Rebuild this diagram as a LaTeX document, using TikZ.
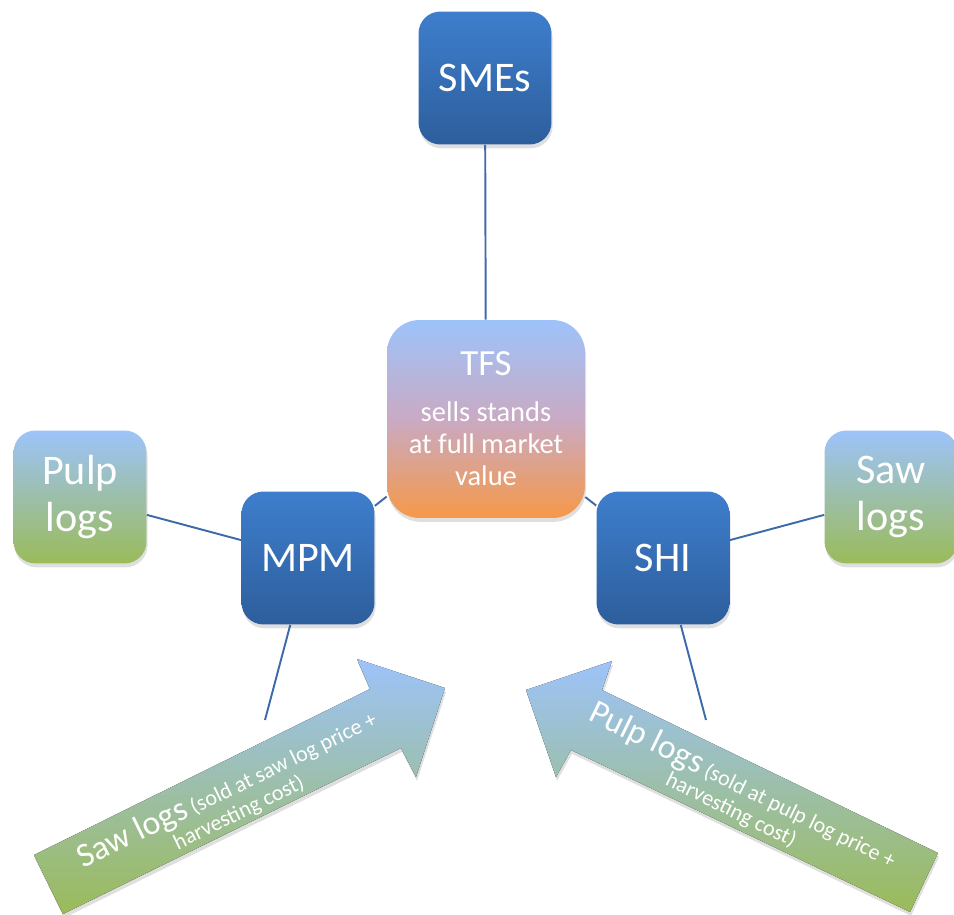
\documentclass[tikz,border=0pt]{standalone}
\usepackage{fontspec}
\setmainfont{Carlito}
\usetikzlibrary{shadows}

\definecolor{boxtop}{RGB}{62,126,205}
\definecolor{boxbot}{RGB}{45,94,156}
\definecolor{skyblue}{RGB}{157,195,250}
\definecolor{leafgreen}{RGB}{155,187,89}
\definecolor{tfsmid}{RGB}{201,170,196}
\definecolor{tfsorange}{RGB}{246,152,72}
\definecolor{linkblue}{RGB}{62,106,170}

\tikzset{
  softshadow/.style={drop shadow={shadow xshift=0.6pt, shadow yshift=-2.2pt, opacity=0.25}},
  firm/.style={rounded corners=12.5pt, softshadow, top color=boxtop, bottom color=boxbot,
    text=white, align=center, inner sep=0pt, minimum width=2.66cm, minimum height=2.66cm,
    font=\fontsize{24}{27}\selectfont},
  logbox/.style={firm, top color=skyblue, bottom color=leafgreen},
  link/.style={linkblue, line width=1.1pt},
  logarrow/.style={softshadow, top color=skyblue, bottom color=leafgreen},
  arrowtext/.style={text=white, align=center, inner sep=0pt, font=\fontsize{12.6}{14}\selectfont}
}

\begin{document}
\begin{tikzpicture}[x=0.02cm, y=-0.02cm]
\useasboundingbox (0,0) rectangle (954,915);

% the two log arrows

\fill [logarrow] (34,855) -- (370,689) -- (357,659) -- (445,688) -- (416,777) -- (401,748) -- (63,914) -- cycle;
\fill [logarrow] (938,853) -- (602,690) -- (612,661) -- (526,690) -- (556,777) -- (571,750) -- (910,912) -- cycle;

\node [arrowtext, rotate=26] (sawtext) at (232,799)
  {{\fontsize{19.3}{22}\selectfont Saw logs} (sold at saw log price +\\harvesting cost)};
\node [arrowtext, rotate=-26] (pulptext) at (738,796)
  {{\fontsize{19.3}{22}\selectfont Pulp logs} (sold at pulp log price +\\harvesting cost)};

% boxes

\node [firm] (smes) at (485,78) {SMEs};
\node [firm, rounded corners=18.5pt, minimum width=3.96cm, minimum height=3.96cm,
       top color=skyblue, bottom color=tfsorange, middle color=tfsmid,
       font=\fontsize{16.2}{18.2}\selectfont] (tfs) at (486,419)
  {{\fontsize{21}{24}\selectfont TFS}\\[8pt]sells stands\\at full market\\value};
\node [firm] (mpm) at (308,558) {MPM};
\node [firm] (shi) at (663,558) {SHI};
\node [logbox] (pulp) at (80,497) {Pulp\\logs};
\node [logbox] (saw) at (891,497) {Saw\\logs};

\coordinate (mpmfoot) at (265,720);
\coordinate (shifoot) at (706,720);

% links

\draw [link] (smes) -- (tfs);
\draw [link] (tfs) -- (mpm);
\draw [link] (tfs) -- (shi);
\draw [link] (pulp) -- (mpm);
\draw [link] (shi) -- (saw);
\draw [link] (mpm) -- (mpmfoot);
\draw [link] (shi) -- (shifoot);

\end{tikzpicture}
\end{document}
